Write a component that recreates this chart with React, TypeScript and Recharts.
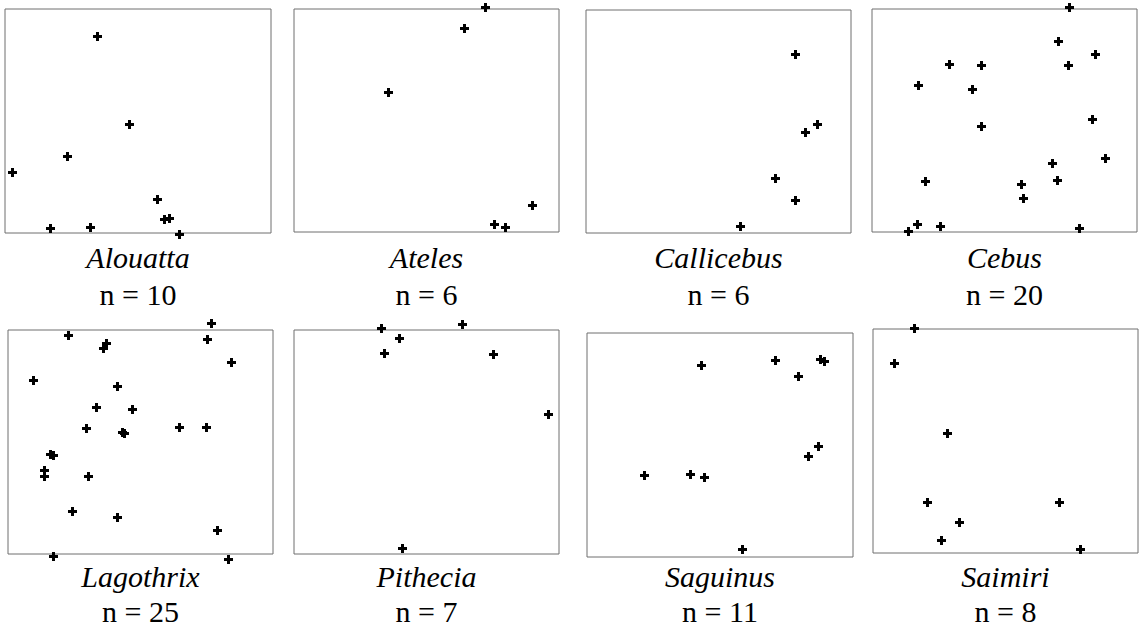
import { ScatterChart, Scatter, XAxis, YAxis, ReferenceArea } from "recharts";

// genus names and sample counts
const genera = ["Alouatta", "Ateles", "Callicebus", "Cebus", "Lagothrix", "Pithecia", "Saguinus", "Saimiri"];
const counts = [10, 6, 6, 20, 25, 7, 11, 8];

// point positions, in percent of each panel's frame
const alouattaX = [34.4, 46.8, 23.4, 2.8, 57.2, 59.6, 61.7, 17.0, 31.8, 65.6];
const alouattaY = [88.0, 48.7, 34.2, 27.3, 15.3, 6.4, 6.7, 2.4, 2.8, -0.3];

const atelesX = [72.2, 64.0, 35.5, 89.7, 75.3, 79.5];
const atelesY = [100.7, 91.3, 62.9, 12.3, 3.7, 2.4];

const callicebusX = [79.0, 87.1, 82.8, 71.2, 78.8, 58.2];
const callicebusY = [80.3, 48.8, 45.1, 24.5, 14.6, 3.3];

const cebusX = [74.4, 70.1, 84.3, 28.9, 41.3, 73.8, 17.3, 37.6, 41.3, 83.2, 87.8, 67.9, 69.9, 19.9, 56.3, 57.1, 16.8, 13.7, 25.6, 78.0];
const cebusY = [101.0, 85.8, 79.6, 75.2, 74.8, 74.8, 66.1, 64.0, 47.6, 50.7, 33.0, 30.9, 23.1, 22.7, 21.5, 15.4, 3.4, 0.4, 2.8, 1.9];

const lagothrixX = [76.5, 22.5, 75.1, 36.9, 35.7, 84.3, 9.3, 41.0, 33.3, 46.7, 29.3, 43.0, 43.7, 64.4, 74.6, 15.8, 16.8, 13.6, 13.6, 30.3, 24.1, 41.0, 78.8, 16.8, 82.9];
const lagothrixY = [103.0, 97.9, 96.1, 94.2, 92.0, 85.9, 77.7, 75.1, 65.6, 64.9, 56.3, 54.6, 54.0, 56.7, 56.7, 44.8, 44.2, 37.6, 34.7, 34.8, 19.2, 16.7, 10.7, -0.9, -2.1];

const pitheciaX = [32.7, 63.3, 39.5, 34.0, 75.2, 95.7, 40.8];
const pitheciaY = [100.9, 102.5, 96.6, 89.7, 89.3, 62.6, 2.7];

const saguinusX = [42.8, 70.7, 87.7, 89.0, 79.2, 86.9, 82.9, 21.3, 38.7, 43.8, 58.2];
const saguinusY = [85.5, 88.0, 88.4, 87.7, 80.7, 49.4, 45.1, 36.5, 37.1, 35.8, 3.6];

const saimiriX = [15.4, 8.1, 28.0, 20.4, 70.0, 32.6, 25.8, 78.2];
const saimiriY = [100.4, 84.7, 53.4, 22.6, 22.9, 13.7, 5.8, 1.9];

const seriesX = [alouattaX, atelesX, callicebusX, cebusX, lagothrixX, pitheciaX, saguinusX, saimiriX];
const seriesY = [alouattaY, atelesY, callicebusY, cebusY, lagothrixY, pitheciaY, saguinusY, saimiriY];

// frame of each panel on the page (layout only)
const frames = [
  { left: 5, top: 9, w: 266, h: 224 },
  { left: 294, top: 9, w: 265, h: 223 },
  { left: 586, top: 10, w: 265, h: 223 },
  { left: 872, top: 9, w: 265, h: 223 },
  { left: 8, top: 330, w: 265, h: 224 },
  { left: 294, top: 330, w: 265, h: 224 },
  { left: 587, top: 333, w: 266, h: 224 },
  { left: 873, top: 329, w: 265, h: 224 },
];
const nameBaseline = [268, 587];
const countBaseline = [305, 622];

const PAD = 8;
const SERIF = '"Liberation Serif", "Times New Roman", Times, serif';

// plus-shaped marker, snapped to whole pixels so it stays crisp
function Plus(props: any) {
  const { cx, cy } = props;
  if (cx == null || cy == null) return null;
  const x = Math.round(cx);
  const y = Math.round(cy);
  return (
    <g fill="#000">
      <rect x={x - 4} y={y - 1} width={9} height={3} />
      <rect x={x - 1} y={y - 4} width={3} height={9} />
    </g>
  );
}

function Panel({ index }: { index: number }) {
  const box = frames[index];
  const data = seriesX[index].map((x, i) => ({ x, y: seriesY[index][i] }));
  // whole-pixel padding so the plot's pixel grid lines up with the page
  const padX = Math.round((box.w * PAD) / 100);
  const padY = Math.round((box.h * PAD) / 100);
  const w = box.w + 2 * padX;
  const h = box.h + 2 * padY;
  const domX = [-(padX / box.w) * 100, 100 + (padX / box.w) * 100];
  const domY = [-(padY / box.h) * 100, 100 + (padY / box.h) * 100];
  return (
    <div style={{ position: "absolute", left: box.left - padX, top: box.top - padY }}>
      <ScatterChart width={w} height={h} margin={{ top: 0, right: 0, bottom: 0, left: 0 }}>
        <XAxis type="number" dataKey="x" domain={domX} hide />
        <YAxis type="number" dataKey="y" domain={domY} hide />
        <ReferenceArea
          x1={0}
          x2={100}
          y1={0}
          y2={100}
          fill="none"
          fillOpacity={0}
          stroke="#6e6e6e"
          strokeWidth={1}
          strokeOpacity={1}
        />
        <Scatter data={data} shape={<Plus />} isAnimationActive={false} />
      </ScatterChart>
    </div>
  );
}

export default function App() {
  return (
    <div
      style={{
        position: "absolute",
        left: 0,
        top: 0,
        width: 1139,
        height: 629,
        overflow: "hidden",
        background: "#fff",
      }}
    >
      {genera.map((g, i) => (
        <Panel key={g} index={i} />
      ))}
      <svg width={1139} height={629} style={{ position: "absolute", left: 0, top: 0, pointerEvents: "none" }}>
        {genera.map((g, i) => {
          const box = frames[i];
          const row = i < 4 ? 0 : 1;
          const cx = box.left + box.w / 2;
          return (
            <g key={g} style={{ fontFamily: SERIF, fontSize: 30 }} fill="#000" textAnchor="middle">
              <text x={cx} y={nameBaseline[row]} style={{ fontStyle: "italic" }}>
                {g}
              </text>
              <text x={cx} y={countBaseline[row]}>
                {`n = ${counts[i]}`}
              </text>
            </g>
          );
        })}
      </svg>
    </div>
  );
}
